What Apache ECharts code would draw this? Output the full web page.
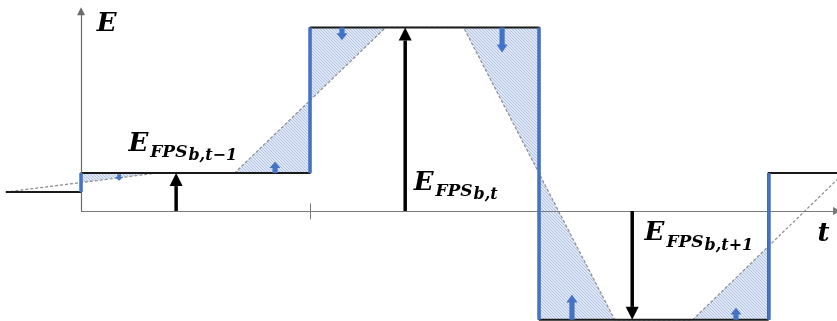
<!DOCTYPE html>
<html>
<head>
<meta charset="utf-8">
<script src="https://cdn.jsdelivr.net/npm/echarts@6/dist/echarts.min.js"></script>
<style>
  html, body { margin: 0; padding: 0; background: #fff; }
  #chart { width: 837px; height: 321px; }
</style>
</head>
<body>
<div id="chart"></div>
<script>
// step times (t) and energy levels (E)
const stepData = [[-0.328, 0.5], [0, 1], [1, 4.84], [2, -2.87], [3, 1], [3.3, 1]];
// blue jumps at each step: [t, from, to]
const jumps = [[0, 0.5, 1], [1, 1, 4.84], [2, 4.84, -2.87], [3, -2.87, 1]];
// dashed ramp (smoothed energy)
const rampData = [[-0.33, 0.5], [0.33, 1], [0.67, 1], [1.33, 4.84], [1.67, 4.84], [2.33, -2.87], [2.67, -2.87], [3.33, 1]];
// hatched gaps between step and ramp
const hatchRegions = [
  [[0, 1], [0.33, 1], [0, 0.75]],
  [[0.67, 1], [1, 1], [1, 2.92]],
  [[1, 4.84], [1.33, 4.84], [1, 2.92]],
  [[1.67, 4.84], [2, 4.84], [2, 0.985]],
  [[2, -2.87], [2.33, -2.87], [2, 0.985]],
  [[2.67, -2.87], [3, -2.87], [3, -0.935]],
];
// small blue block arrows: [t, from, to]
const nudges = [[0.166, 0.97, 0.8], [0.847, 1, 1.3], [1.139, 4.84, 4.5], [1.838, 4.84, 4.18], [2.143, -2.87, -2.2], [2.859, -2.87, -2.55]];
// black level arrows: [t, from, to]
const levelArrows = [[0.415, 0, 1], [1.415, 0, 4.84], [2.406, 0, -2.87]];
// tick positions on the t axis
const tTicks = [1, 2, 3];
// text annotations
const labels = [
  { at: [0.068, 4.88], main: "E", sub: "", subsub: "" },
  { at: [0.207, 1.72], main: "E", sub: "FPS", subsub: "b,t\u22121" },
  { at: [1.452, 0.68], main: "E", sub: "FPS", subsub: "b,t" },
  { at: [2.46, -0.65], main: "E", sub: "FPS", subsub: "b,t+1" },
  { at: [3.215, -0.66], main: "t", sub: "", subsub: "" },
];

(function () {
  let myChart = echarts.init(document.getElementById("chart"));

  // hatch pattern: light blue with fine diagonal lines
  const pat = document.createElement("canvas");
  pat.width = 3;
  pat.height = 3;
  const ctx = pat.getContext("2d");
  ctx.fillStyle = "#e0e8f5";
  ctx.fillRect(0, 0, 3, 3);
  ctx.strokeStyle = "#a9bce3";
  ctx.lineWidth = 0.9;
  ctx.beginPath();
  ctx.moveTo(-1, -1); ctx.lineTo(4, 4);
  ctx.moveTo(-1, 2); ctx.lineTo(1, 4);
  ctx.moveTo(2, -1); ctx.lineTo(4, 1);
  ctx.stroke();
  const hatchFill = { image: pat, repeat: "repeat" };

  const font = "DejaVu Serif";
  const txt = { color: "#000", fontFamily: font, fontWeight: "bold", fontStyle: "italic", verticalAlign: "top" };

  let option = {
    animation: false,
    grid: { left: 5, right: 0, top: 10, bottom: 0 },
    xAxis: { type: "value", min: -0.332, max: 3.3, show: false },
    yAxis: { type: "value", min: -2.9, max: 5.3, show: false },
    series: [
      {
        // hatched areas
        type: "custom",
        z: 1,
        data: hatchRegions.map((r) => r[0]),
        renderItem: function (params, api) {
          const pts = hatchRegions[params.dataIndex].map((p) => api.coord(p));
          return { type: "polygon", shape: { points: pts }, style: { fill: hatchFill } };
        },
      },
      {
        // dashed ramp
        type: "line",
        z: 2,
        data: rampData,
        symbol: "none",
        lineStyle: { color: "#8c8c8c", width: 1.2, type: [3, 2] },
      },
      {
        // step function
        type: "line",
        z: 3,
        data: stepData,
        step: "end",
        symbol: "none",
        lineStyle: { color: "#1a1a1a", width: 2 },
      },
      {
        // axes, ticks and blue jumps
        type: "line",
        z: 4,
        data: [],
        markLine: {
          silent: true,
          animation: false,
          label: { show: false },
          emphasis: { disabled: true },
          data: [
            [
              { coord: [0, 0], symbol: "none", lineStyle: { color: "#6b6b6b", width: 1.2, type: "solid" } },
              { coord: [0, 5.27], symbol: "triangle", symbolSize: 8 },
            ],
            [
              { coord: [0, 0], symbol: "none", lineStyle: { color: "#7a7a7a", width: 1.2, type: "solid" } },
              { coord: [3.3, 0], symbol: "triangle", symbolSize: 8 },
            ],
          ]
            .concat(tTicks.map((t) => [
              { coord: [t, 0.2], symbol: "none", lineStyle: { color: "#7a7a7a", width: 1, type: "solid" } },
              { coord: [t, -0.22], symbol: "none" },
            ]))
            .concat(jumps.map((j) => [
              { coord: [j[0], j[1]], symbol: "none", lineStyle: { color: "#4472c4", width: 3.5, type: "solid" } },
              { coord: [j[0], j[2]], symbol: "none" },
            ])),
        },
      },
      {
        // black level arrows
        type: "custom",
        z: 6,
        data: levelArrows,
        encode: { x: 0, y: [1, 2] },
        renderItem: function (params, api) {
          const a = api.coord([api.value(0), api.value(1)]);
          const b = api.coord([api.value(0), api.value(2)]);
          const dir = b[1] < a[1] ? -1 : 1;
          const neck = b[1] - dir * 13;
          return {
            type: "group",
            children: [
              { type: "line", shape: { x1: a[0], y1: a[1], x2: a[0], y2: neck }, style: { stroke: "#000", lineWidth: 3.5 } },
              { type: "polygon", shape: { points: [[a[0] - 6.5, neck], [a[0], b[1]], [a[0] + 6.5, neck]] }, style: { fill: "#000" } },
            ],
          };
        },
      },
      {
        // small blue block arrows
        type: "custom",
        z: 5,
        data: nudges,
        encode: { x: 0, y: [1, 2] },
        renderItem: function (params, api) {
          const a = api.coord([api.value(0), api.value(1)]);
          const b = api.coord([api.value(0), api.value(2)]);
          const dir = b[1] < a[1] ? -1 : 1;
          const len = Math.abs(b[1] - a[1]);
          const head = Math.min(8, len * 0.55);
          const hw = len < 10 ? 4 : 5.5;
          const sw = len < 10 ? 1.8 : 2.6;
          const x = a[0];
          const neck = b[1] - dir * head;
          return {
            type: "polygon",
            shape: { points: [[x - sw, a[1]], [x - sw, neck], [x - hw, neck], [x, b[1]], [x + hw, neck], [x + sw, neck], [x + sw, a[1]]] },
            style: { fill: "#4472c4" },
          };
        },
      },
      {
        // text annotations
        type: "scatter",
        z: 7,
        symbolSize: 0,
        itemStyle: { opacity: 1 },
        data: labels.map((l) => l.at),
        label: {
          show: true,
          position: "right",
          distance: 0,
          color: "#000",
          opacity: 1,
          formatter: function (p) {
            const l = labels[p.dataIndex];
            let s = "{e|" + l.main + "}";
            if (l.sub) s += "{s|" + l.sub + "}";
            if (l.subsub) s += "{ss|" + l.subsub + "}";
            return s;
          },
          rich: {
            e: Object.assign({}, txt, { fontSize: 26, lineHeight: 30 }),
            s: Object.assign({}, txt, { fontSize: 17, lineHeight: 20, padding: [13, 0, 0, 2] }),
            ss: Object.assign({}, txt, { fontSize: 16, lineHeight: 18, padding: [17, 0, 0, 1] }),
          },
        },
      },
    ],
  };

  myChart.setOption(option);
  window.addEventListener("resize", function () {
    myChart.resize();
  });
})();
</script>
</body>
</html>
